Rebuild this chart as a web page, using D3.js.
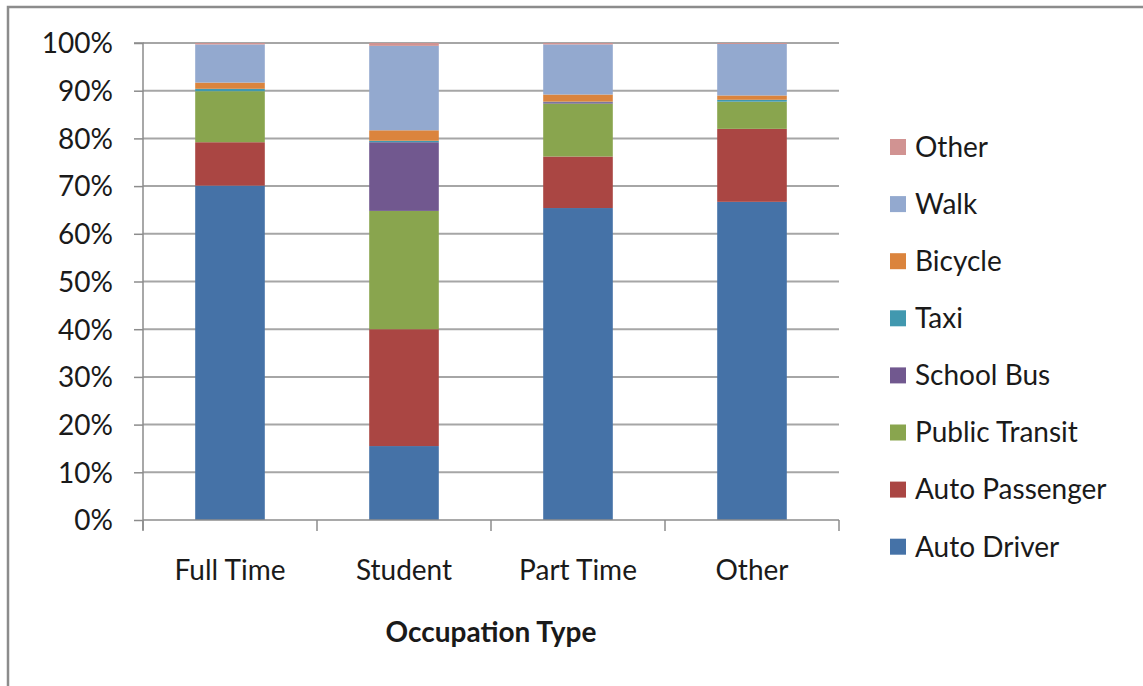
<!DOCTYPE html>
<html><head><meta charset="utf-8">
<script src="https://cdn.jsdelivr.net/npm/d3@7"></script>
<style>body{margin:0;background:#fff}svg{display:block}text{font-family:Lato,"Open Sans",sans-serif;fill:#1a1a1a}</style>
</head><body><svg id="c" width="1143" height="686"></svg>
<script>
const categories = ["Full Time","Student","Part Time","Other"];
const modes = ["Auto Driver","Auto Passenger","Public Transit","School Bus","Taxi","Bicycle","Walk","Other"];
const autoDriver    = [70.1, 15.5, 65.4, 66.7];
const autoPassenger = [ 9.1, 24.5, 10.8, 15.3];
const publicTransit = [10.7, 24.8, 11.1,  5.7];
const schoolBus     = [ 0.0, 14.4,  0.3,  0.0];
const taxi          = [ 0.5,  0.3,  0.1,  0.4];
const bicycle       = [ 1.3,  2.2,  1.5,  0.9];
const walk          = [ 8.0, 17.7, 10.5, 10.8];
const otherMode     = [ 0.3,  0.6,  0.3,  0.2];
const yTicks = [0,10,20,30,40,50,60,70,80,90,100];
const colors = ["#4572A7","#AA4643","#89A54E","#71588F","#4198AF","#DB843D","#93A9CF","#D19392"];

const seriesArrays = [autoDriver,autoPassenger,publicTransit,schoolBus,taxi,bicycle,walk,otherMode];
const rows = categories.map((c,i)=>{const r={cat:c}; modes.forEach((m,j)=>r[m]=seriesArrays[j][i]); return r;});

const FS = "28px";
const svg = d3.select("#c");
// chart border
svg.append("rect").attr("x",8).attr("y",7).attr("width",1160).attr("height",700)
  .attr("fill","none").attr("stroke","#8c8c8c").attr("stroke-width",2.5);

const x0=143, x1=839, yTop=43, yBot=520;
const x = d3.scaleBand().domain(categories).range([x0,x1]).paddingInner(0.6).paddingOuter(0.3);
const y = d3.scaleLinear().domain([0,100]).range([yBot,yTop]);

// gridlines
svg.append("g").selectAll("line").data(yTicks.filter(t=>t>0)).join("line")
  .attr("x1",x0).attr("x2",x1).attr("y1",d=>y(d)).attr("y2",d=>y(d))
  .attr("stroke","#a6a6a6").attr("stroke-width",2);

// stacked bars
const stack = d3.stack().keys(modes)(rows);
svg.append("g").selectAll("g").data(stack).join("g")
  .attr("fill",(d,i)=>colors[i])
  .selectAll("rect").data(d=>d).join("rect")
  .attr("x",d=>x(d.data.cat)).attr("width",x.bandwidth())
  .attr("y",d=>y(d[1])).attr("height",d=>Math.max(0,y(d[0])-y(d[1])));

// y axis
const yAxis = d3.axisLeft(y).tickValues(yTicks).tickFormat(d=>d+"%").tickSize(9).tickPadding(21);
const gy = svg.append("g").attr("transform",`translate(${x0},0)`).call(yAxis);
gy.select(".domain").attr("stroke","#8c8c8c").attr("stroke-width",1.5).attr("d",`M-9,${yTop}H0V${yBot+10}`);
gy.selectAll(".tick line").attr("stroke","#8c8c8c").attr("stroke-width",1.5);
gy.selectAll(".tick text").style("font-size",FS).style("font-family","Lato,sans-serif").attr("fill","#1a1a1a").attr("dy","0.35em");

// x axis
const xAxis = d3.axisBottom(x).tickSize(0).tickPadding(60);
const gx = svg.append("g").attr("transform",`translate(0,${yBot})`).call(xAxis);
gx.select(".domain").attr("stroke","#8c8c8c").attr("stroke-width",1.5).attr("d",`M${x0},0H${x1}`);
gx.selectAll(".tick text").style("font-size",FS).style("font-family","Lato,sans-serif").attr("fill","#1a1a1a").attr("dy","0");
const step = x.step();
const bounds = d3.range(categories.length+1).map(i=>x0+i*step);
gx.append("g").selectAll("line").data(bounds).join("line")
  .attr("x1",d=>d).attr("x2",d=>d).attr("y1",0).attr("y2",11)
  .attr("stroke","#8c8c8c").attr("stroke-width",1.5);

// axis title
svg.append("text").attr("x",(x0+x1)/2).attr("y",642).attr("text-anchor","middle")
  .style("font-size",FS).style("font-weight","bold").text("Occupation Type");

// legend
const legendOrder = modes.map((m,i)=>({m,i})).reverse();
const lg = svg.append("g").selectAll("g").data(legendOrder).join("g")
  .attr("transform",(d,k)=>`translate(890,${147+k*57.1})`);
lg.append("rect").attr("x",0).attr("y",-8).attr("width",16).attr("height",16).attr("fill",d=>colors[d.i]);
lg.append("text").attr("x",25).attr("y",0).attr("dy","0.35em").style("font-size",FS).text(d=>d.m);
</script></body></html>
